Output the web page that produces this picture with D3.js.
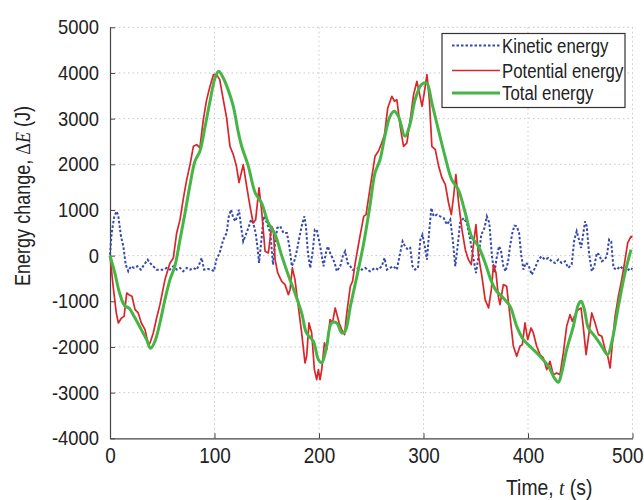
<!DOCTYPE html>
<html><head><meta charset="utf-8">
<script src="https://cdn.jsdelivr.net/npm/d3@7"></script>
<style>
html,body{margin:0;padding:0;background:#fff;}
svg{display:block;}
.nar{font-family:"Liberation Sans",Arial,sans-serif;fill:#222;}
</style></head>
<body>
<svg id="c" width="644" height="500"></svg>
<script>
// ---- data ----
const xTicks = [0,100,200,300,400,500];
const yTicks = [-4000,-3000,-2000,-1000,0,1000,2000,3000,4000,5000];
const seriesNames = ["Kinetic energy","Potential energy","Total energy"];

const tK = [0,1.6,4.1,6.4,8,10.5,12.8,15,17.5,20,23,26.3,29.5,32.7,36,38.3,41.4,44.6,47.8,51,54.2,57.4,60.6,63.8,67,70,73.4,76.6,79.8,83,86,87.7,90,93.7,96.9,99.5,101.7,104.9,108.4,111.6,113.7,115.8,118,120,122.2,123.4,125.4,127.5,130,132.4,135,137,139.4,141.4,142.6,144.6,147,150.3,153.4,156,157.6,160,163,166,169.3,171.6,174,176.8,179,181.4,183.4,186,187.5,189.4,191.6,194,196,197.8,200.2,202,204.3,206.6,208.5,210.6,212.9,215,217,220.3,222.7,225,227.4,230,232.1,234.7,238,241,244.3,248.8,253.6,256.8,260,262.7,265,268,271.3,274.5,277.7,280,282.3,285,287.3,289.5,292,294.7,297,299,301.2,303.3,305.6,307.5,309.7,313,316,319.3,322.4,325.6,328,330.4,333,335,338.4,341.5,344.7,348,350.2,352.7,355.3,358.4,360.6,363,365.5,367.8,370,372.2,374,376.4,378.6,381,382.8,385,387,389.2,391.5,393.3,395.6,397.8,400.3,403.5,406.7,409.9,413,416.2,419.5,422.7,425.8,429,432.2,435.4,438.6,441.8,444.3,446.6,448.8,450.8,453,454.6,456.2,458.4,461,463.5,465.8,468,470.6,473.2,475.4,477.6,479.6,481.8,485,488.2,491.4,494.6,497.8,500];
const kinetic = [20,496,861,970,861,423,204,-197,-343,-233,-270,-233,-307,-197,-88,-160,-233,-307,-307,-307,-270,-307,-233,-307,-270,-343,-270,-307,-270,-307,-160,-51,-307,-292,-307,-343,-88,58,350,496,861,1007,825,752,898,1007,642,313,460,606,788,715,496,131,-160,277,861,715,496,-197,204,606,642,496,496,204,-233,-88,131,423,642,861,642,58,-270,95,570,570,313,95,-233,58,204,58,-51,-160,-343,-233,-15,95,-160,-233,-307,-307,-270,-307,-270,-343,-270,-307,-233,-51,-307,-270,-233,-307,58,313,204,131,168,-233,-307,-270,350,460,204,-88,570,1044,861,898,861,825,679,788,350,-233,277,715,825,715,350,-88,-380,-15,460,606,861,715,-15,-380,-51,204,131,-233,-343,-124,204,496,657,642,496,58,-307,-160,-197,-416,-270,-88,-15,-88,-51,-124,-160,-88,-160,-124,-270,-197,350,533,350,168,496,752,642,58,-343,-233,58,22,-124,-88,-15,350,314,-270,-307,-233,-307,-343,-270,-300];

const tP = [0,3,6,8,11,13.5,16,18,21,24,27,30,33.5,36.7,38.3,41.4,44.6,47.8,52.6,57.4,60.6,63.8,67,70,73.4,76.6,79.8,83,86,89.3,92.5,95.7,99,102,105,108.4,111.6,114.8,118,121,123.5,127.5,130.8,134,137,139.4,142.6,145,148.4,151.5,154.7,156.3,158,160.5,164.3,167.5,170.7,172.3,174.5,177,180.2,183.4,186.6,188.2,190.4,193,195.6,197.8,199.4,201,202.6,205.2,207.4,210.6,212.9,215.5,219.3,221.8,224.4,226.6,230,232.1,234.7,238.6,242.8,245,249,253.6,256.8,260,262.7,265.8,269.7,272.3,274.5,277.7,280.9,284.1,287.3,290.5,293.7,296,298.6,301.2,303.3,305.6,308,311.3,314.5,317.7,320.9,324,326.6,328.8,331,333.6,336.8,340,343,345.7,348,350.2,352.7,355.9,359,362.3,364.9,367,369.4,371.6,373.2,376.4,379.6,382.8,386,389.2,392.3,394.6,397.1,399.7,402.9,405.1,408.3,411.5,414.7,417.9,421,424.2,427.4,430.6,433.8,437,440.2,442.4,445,448.2,450.8,453,455.6,458.4,461,464.2,467.4,470.6,473.8,476.3,478.6,480.8,483.3,486.5,489.7,492.9,495.4,498.6,500];
const potential = [0,-670,-1255,-1475,-1365,-1330,-818,-855,-890,-1182,-1255,-1475,-1620,-1950,-1912,-1693,-1365,-1073,-525,-160,-51,496,788,1226,1664,1993,2394,2430,2358,2978,3416,3708,3963,3963,3854,3416,3015,2394,2212,1956,1600,1993,1518,1080,715,788,1482,1007,95,58,642,570,-88,-380,-562,-635,-854,-745,-270,-525,-1110,-1693,-2350,-2204,-1474,-1693,-2496,-2715,-2496,-2715,-2496,-1912,-2058,-1401,-1474,-1146,-1474,-1620,-1730,-1255,-670,-562,-160,350,861,898,1500,2175,2285,2467,2650,3234,3489,3380,3416,2832,2394,2467,2978,3525,3817,3562,3270,3635,3963,3416,2394,2321,1956,1700,1555,1153,898,1300,1773,1153,569,131,-88,-197,277,679,-15,-453,-963,-1146,-745,-197,-380,-890,-1073,-635,-672,-1328,-1985,-2204,-1985,-1949,-1474,-1840,-1584,-1693,-1985,-2168,-2241,-2496,-2314,-2606,-2569,-2606,-2131,-1547,-1292,-1438,-1292,-1182,-1146,-1584,-2168,-1693,-1255,-1474,-1730,-1766,-2058,-2204,-2460,-1912,-1328,-890,-525,-88,277,423,400];

const tT = [0,4.6,9.2,14,18.3,23,29,35,38.9,43,47.8,52.6,57.4,62,67,71.8,76.6,81.3,86,91,95.7,100.5,104,108.4,113,118,122.8,126,132.4,139,145,151.5,158,164.3,171,177,183.4,188,194.6,199.4,202.6,207.3,212,217,221.7,225,230,236.3,242.8,248.8,253.6,258.4,263,268,272,276,282.3,287,292,298,303,308,314.2,320.6,327,333.3,340,346,352.5,359,365,370,374.8,382.8,389.2,395.6,403.5,411.5,419.5,425.2,429,432.2,437,443.4,448.2,450.8,454,457.7,464,470.5,476.2,480,486.5,492.8,498.6];
const total = [0,-380,-820,-1095,-1150,-1330,-1580,-1840,-2030,-1875,-1470,-960,-525,-235,350,935,1555,2065,2285,2830,3380,3890,4036,3890,3635,3270,2700,2395,1956,1372,1153,715,460,0,-450,-820,-1255,-1690,-1875,-2277,-2350,-1985,-1475,-1475,-1690,-1657,-1110,-450,277,1100,1810,2100,2613,3050,3160,3050,2613,2868,3416,3745,3780,3343,2760,2175,1664,1445,934,423,204,-160,-562,-780,-890,-1110,-1547,-1840,-2022,-2204,-2423,-2679,-2774,-2569,-2058,-1547,-1073,-1000,-1182,-1584,-1766,-1985,-2168,-1912,-1110,-380,131];

// ---- chart ----
const svg = d3.select("#c");
const x = d3.scaleLinear().domain([0,500]).range([110,632.5]);
const y = d3.scaleLinear().domain([-4000,5000]).range([438.3,27.3]);

// grid
const g = svg.append("g");
g.selectAll("line.vx").data(xTicks.filter(d=>d>0)).join("line")
  .attr("x1",d=>x(d)).attr("x2",d=>x(d)).attr("y1",y(-4000)).attr("y2",y(5000))
  .attr("stroke","#c9c9c9").attr("stroke-width",1).attr("stroke-dasharray","1.5,3");
g.selectAll("line.hy").data(yTicks.filter(d=>d>-4000)).join("line")
  .attr("x1",x(0)).attr("x2",x(500)).attr("y1",d=>y(d)).attr("y2",d=>y(d))
  .attr("stroke","#c9c9c9").attr("stroke-width",1).attr("stroke-dasharray","1.5,3");

// axes
const ax = svg.append("g").attr("transform",`translate(0,${y(-4000)})`)
  .call(d3.axisBottom(x).tickValues(xTicks).tickSizeInner(-5).tickSizeOuter(0).tickPadding(8).tickFormat(d3.format("d")));
const ay = svg.append("g").attr("transform",`translate(${x(0)},0)`)
  .call(d3.axisLeft(y).tickValues(yTicks).tickSizeInner(-5).tickSizeOuter(0).tickPadding(11).tickFormat(d=>String(d)));
[ax,ay].forEach(a=>{
  a.select(".domain").attr("stroke","#444").attr("stroke-width",1.2);
  a.selectAll(".tick line").attr("stroke","#444").attr("stroke-width",1);
  a.selectAll(".tick text").attr("fill","#222")
    .style("font-family",'"Liberation Sans",Arial,sans-serif');
});
const sxX = 0.88, sxY = 0.92;
ax.selectAll(".tick text").style("font-size","21.5px").attr("dy",null).attr("y",25)
  .attr("transform",`scale(${sxX},1)`);
// keep the last label inside the 644px page
ax.selectAll(".tick text").filter(d=>d===500)
  .attr("text-anchor","end").attr("x",(643 - x(500))/sxX);
ay.selectAll(".tick text").style("font-size","20px").attr("dy","0.32em")
  .attr("x",-11/sxY).attr("transform",`scale(${sxY},1)`);

// lines
const plot = svg.append("g");
const lineK = d3.line().x((d,i)=>x(tK[i])).y(d=>y(d));
const lineP = d3.line().x((d,i)=>x(tP[i])).y(d=>y(d));
const lineT = d3.line().x((d,i)=>x(tT[i])).y(d=>y(d)).curve(d3.curveCatmullRom.alpha(0.5));
plot.append("path").attr("d",lineK(kinetic)).attr("fill","none")
  .attr("stroke","#3549ad").attr("stroke-width",2).attr("stroke-dasharray","2.5,2");
plot.append("path").attr("d",lineP(potential)).attr("fill","none")
  .attr("stroke","#d9262a").attr("stroke-width",1.7).attr("stroke-linejoin","round");
plot.append("path").attr("d",lineT(total)).attr("fill","none")
  .attr("stroke","#45b545").attr("stroke-width",3).attr("stroke-linejoin","round");

// legend
const lg = svg.append("g");
lg.append("rect").attr("x",442).attr("y",33.5).attr("width",183).attr("height",74)
  .attr("fill","#fff").attr("stroke","#333").attr("stroke-width",1.2);
const styles = [
  {c:"#3549ad",w:2,dash:"2.5,2"},
  {c:"#d9262a",w:1.7,dash:null},
  {c:"#45b545",w:3,dash:null}
];
const rowY = [45.5,70.5,93];
const sxL = 0.8;
seriesNames.forEach((n,i)=>{
  lg.append("line").attr("x1",452).attr("x2",500).attr("y1",rowY[i]).attr("y2",rowY[i])
    .attr("stroke",styles[i].c).attr("stroke-width",styles[i].w).attr("stroke-dasharray",styles[i].dash);
  lg.append("text").attr("class","nar")
    .attr("transform",`translate(502,${rowY[i]+7}) scale(${sxL},1)`)
    .style("font-size","21px").text(n);
});

// axis titles
const xl = svg.append("text").attr("class","nar")
  .attr("transform","translate(506,495) scale(0.88,1)").style("font-size","22px");
xl.append("tspan").text("Time, ");
xl.append("tspan").style("font-family","'Liberation Serif',serif").style("font-style","italic").text("t");
xl.append("tspan").text(" (s)");

const yl = svg.append("text").attr("class","nar").attr("text-anchor","middle")
  .attr("transform","translate(30,196) rotate(-90) scale(0.84,1)").style("font-size","21.5px");
yl.append("tspan").text("Energy change, ");
yl.append("tspan").style("font-family","'Liberation Serif',serif").text("Δ");
yl.append("tspan").style("font-family","'Liberation Serif',serif").style("font-style","italic").text("E");
yl.append("tspan").text(" (J)");
</script>
</body></html>
